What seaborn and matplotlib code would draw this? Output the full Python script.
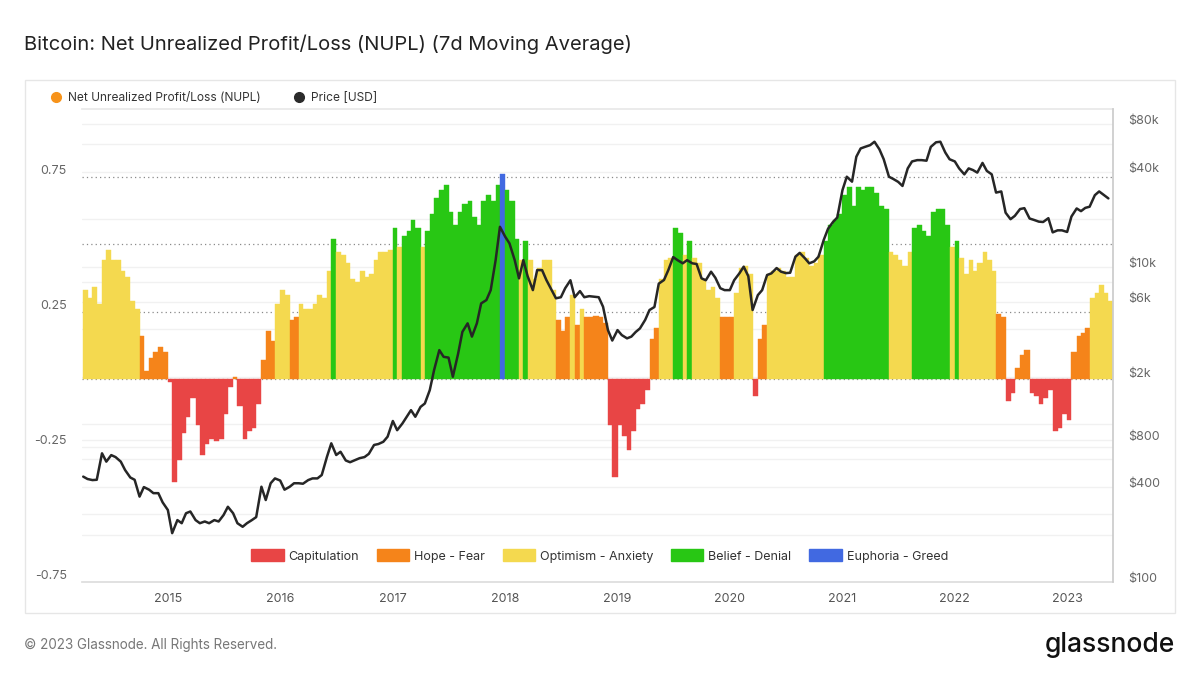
import numpy as np
import pandas as pd
import matplotlib
matplotlib.use('Agg')
import matplotlib.pyplot as plt
import seaborn as sns
from matplotlib.lines import Line2D
from matplotlib.patches import Patch, Rectangle

# Semi-monthly samples (1st and 15th), Apr 2014 - May 2023
dates = pd.date_range("2014-04-01", "2023-05-15", freq="SMS")

nupl_2014 = [0.33, 0.30, 0.34, 0.28, 0.44, 0.48, 0.44, 0.44, 0.40, 0.38, 0.29, 0.26,
             0.16, 0.03, 0.08, 0.10, 0.12, 0.10]
nupl_2015 = [-0.01, -0.38, -0.30, -0.20, -0.14, -0.07, -0.17, -0.28, -0.24, -0.22, -0.23, -0.22,
             -0.13, -0.03, 0.01, -0.10, -0.22, -0.19, -0.18, -0.09, 0.07, 0.18, 0.14, 0.28]
nupl_2016 = [0.33, 0.31, 0.22, 0.23, 0.28, 0.26, 0.26, 0.28, 0.31, 0.30, 0.40, 0.52,
             0.47, 0.46, 0.43, 0.37, 0.36, 0.40, 0.38, 0.39, 0.44, 0.47, 0.47, 0.48]
nupl_2017 = [0.56, 0.49, 0.53, 0.55, 0.59, 0.56, 0.49, 0.55, 0.61, 0.67, 0.70, 0.72,
             0.62, 0.57, 0.62, 0.65, 0.66, 0.60, 0.57, 0.66, 0.68, 0.66, 0.72, 0.76]
nupl_2018 = [0.70, 0.66, 0.52, 0.44, 0.51, 0.44, 0.37, 0.41, 0.44, 0.44, 0.33, 0.22,
             0.18, 0.23, 0.31, 0.20, 0.26, 0.23, 0.23, 0.235, 0.23, 0.21, -0.17, -0.36]
nupl_2019 = [-0.17, -0.21, -0.26, -0.19, -0.11, -0.09, -0.04, 0.15, 0.19, 0.37, 0.44, 0.45,
             0.56, 0.54, 0.46, 0.51, 0.45, 0.43, 0.37, 0.33, 0.34, 0.30, 0.23, 0.23]
nupl_2020 = [0.23, 0.32, 0.41, 0.42, 0.39, -0.06, 0.15, 0.20, 0.39, 0.40, 0.41, 0.40,
             0.38, 0.38, 0.46, 0.47, 0.45, 0.42, 0.43, 0.46, 0.51, 0.57, 0.59, 0.61]
nupl_2021 = [0.68, 0.71, 0.64, 0.71, 0.70, 0.71, 0.71, 0.69, 0.64, 0.63, 0.47, 0.46,
             0.44, 0.42, 0.47, 0.56, 0.57, 0.55, 0.53, 0.62, 0.63, 0.63, 0.57, 0.49]
nupl_2022 = [0.51, 0.45, 0.39, 0.44, 0.40, 0.43, 0.47, 0.44, 0.40, 0.24, 0.23, -0.08,
             -0.05, 0.04, 0.09, 0.11, -0.05, -0.06, -0.09, -0.07, -0.04, -0.19, -0.18, -0.13]
nupl_2023 = [-0.15, 0.10, 0.16, 0.17, 0.19, 0.30, 0.32, 0.35, 0.32, 0.29]

price_2014 = [466, 450, 443, 445, 655, 580, 638, 620, 580, 513, 460, 445,
              348, 400, 385, 366, 366, 320]
price_2015 = [286, 204, 247, 236, 273, 280, 247, 236, 242, 236, 247, 242,
              266, 300, 273, 236, 224, 236, 247, 258, 402, 331, 423, 454]
price_2016 = [440, 385, 402, 423, 423, 420, 443, 454, 454, 477, 623, 758,
              639, 670, 590, 575, 594, 610, 620, 650, 740, 750, 775, 835]
price_2017 = [1050, 918, 1012, 1117, 1230, 1117, 1290, 1356, 1648, 2207, 2956, 2680,
              2650, 2004, 2800, 3860, 4370, 3600, 4370, 5850, 6140, 7100, 11000, 17900]
price_2018 = [15500, 14050, 11000, 8430, 11000, 8700, 7100, 9520, 9500, 8220, 7100, 6300,
              6400, 7300, 8200, 6400, 7000, 6400, 6500, 6450, 6400, 5570, 3960, 3400]
price_2019 = [3960, 3680, 3510, 3600, 3850, 4060, 4600, 5310, 5550, 7800, 8230, 9500,
              11500, 11000, 10500, 11000, 10500, 10400, 8430, 8200, 9290, 8500, 7300, 7100]
price_2020 = [7100, 8200, 9070, 10000, 8700, 5310, 6600, 7100, 8850, 9070, 9800, 9300,
              9100, 9150, 11560, 12230, 11300, 10500, 10800, 11560, 14760, 17380, 19180, 20500]
price_2021 = [30600, 37200, 34600, 49800, 56200, 57500, 59000, 62000, 55500, 48000, 37200, 36000,
              34500, 32500, 42000, 46500, 47400, 47400, 47000, 57500, 61500, 62000, 53000, 48000]
price_2022 = [46500, 42000, 38500, 42000, 41000, 39500, 45500, 40500, 38500, 29500, 30000, 22000,
              20000, 21000, 23200, 23500, 20200, 19800, 19300, 19200, 20300, 16500, 17000, 17000]
price_2023 = [16600, 20800, 23400, 22500, 23600, 24000, 28400, 30000, 28400, 27100]

zone_names = ["Capitulation", "Hope - Fear", "Optimism - Anxiety", "Belief - Denial", "Euphoria - Greed"]
zone_colors = ["#E84545", "#F5841A", "#F4D94F", "#28C714", "#4169E1"]
zone_edges = [0.0, 0.25, 0.5, 0.75]

nupl_ticks = [-0.75, -0.25, 0.25, 0.75]
price_ticks = [100, 400, 800, 2000, 6000, 10000, 40000, 80000]
price_labels = ["$100", "$400", "$800", "$2k", "$6k", "$10k", "$40k", "$80k"]
price_grid = [200, 600, 1000, 4000, 8000, 20000, 60000]
years = [str(y) for y in range(2015, 2024)]

nupl = np.array(nupl_2014 + nupl_2015 + nupl_2016 + nupl_2017 + nupl_2018 +
                nupl_2019 + nupl_2020 + nupl_2021 + nupl_2022 + nupl_2023)
price = np.array(price_2014 + price_2015 + price_2016 + price_2017 + price_2018 +
                 price_2019 + price_2020 + price_2021 + price_2022 + price_2023)
assert len(nupl) == len(dates) == len(price)

df = pd.DataFrame({"date": dates, "nupl": nupl, "price": price})
df["zone"] = np.digitize(df["nupl"], zone_edges)
df["width"] = df["date"].diff().shift(-1).dt.days.fillna(15)

sns.set_theme(style="white")
plt.rcParams["font.family"] = ["Inter", "DejaVu Sans"]

W, H = 1200, 675
fig = plt.figure(figsize=(12, 6.75), dpi=100)
fig.patch.set_facecolor("white")

# card frame
fig.patches.append(Rectangle((25 / W, 1 - 613 / H), 1150 / W, 533 / H, transform=fig.transFigure,
                             facecolor="none", edgecolor="#e6e6e6", linewidth=1.0))

rect = [82 / W, 1 - 582 / H, 1031 / W, 473 / H]
xmin, xmax = pd.Timestamp("2014-03-28"), pd.Timestamp("2023-05-30")

# background axes: log grid of the price scale
axg = fig.add_axes(rect)
axg.set_yscale("log")
axg.set_ylim(100, 100000)
axg.set_xlim(xmin, xmax)
for v in price_ticks + price_grid:
    axg.axhline(v, color="#f1f1f1", linewidth=1.0, zorder=0)
axg.set_xticks([])
axg.set_yticks([], minor=False)
axg.set_yticks([], minor=True)
axg.tick_params(left=False, bottom=False, labelleft=False, labelbottom=False)
for s in axg.spines.values():
    s.set_visible(False)

# NUPL bars
ax = fig.add_axes(rect)
ax.patch.set_alpha(0)
ax.set_ylim(-0.75, 1.0)
for v in [-0.5, -0.25]:
    ax.axhline(v, color="#f1f1f1", linewidth=1.0, zorder=0)
for v in [0.0] + zone_edges[1:]:
    ax.axhline(v, color="#8a8a8a", linewidth=0.9, linestyle=(0, (1, 2.5)), zorder=0.5)
bar_colors = [zone_colors[z] for z in df["zone"]]
ax.bar(df["date"], df["nupl"], width=df["width"], align="edge", color=bar_colors,
       edgecolor=bar_colors, linewidth=0.3, zorder=1)
ax.set_yticks(nupl_ticks)
ax.set_yticklabels([f"{t:g}" for t in nupl_ticks])
for lab in ax.get_yticklabels():
    lab.set_va("bottom")
ax.tick_params(axis="y", length=0, pad=11, labelsize=9, labelcolor="#666666")
ax.set_xticks(pd.to_datetime([f"{y}-01-01" for y in years]))
ax.set_xticklabels(years)
ax.tick_params(axis="x", length=4, width=0.8, color="#dddddd", pad=4, labelsize=9, labelcolor="#555555")
ax.set_xlim(xmin, xmax)
for side in ["left", "right"]:
    ax.spines[side].set_visible(False)
ax.spines["bottom"].set_color("#dddddd")
ax.spines["top"].set_color("#e8e8e8")

# price line
ax2 = ax.twinx()
sns.lineplot(data=df, x="date", y="price", ax=ax2, color="#262626", linewidth=1.8)
ax2.set_yscale("log")
ax2.set_ylim(100, 100000)
ax2.set_yticks(price_ticks)
ax2.set_yticklabels(price_labels)
ax2.set_yticks([], minor=True)
for lab in ax2.get_yticklabels():
    lab.set_va("baseline")
ax2.tick_params(axis="y", length=0, pad=11, labelsize=9, labelcolor="#666666")
ax2.set_ylabel("")
ax2.set_xlabel("")
ax.set_xlabel("")
for side in ["left", "top", "bottom"]:
    ax2.spines[side].set_visible(False)
ax2.spines["right"].set_color("#cccccc")
ax2.set_xlim(xmin, xmax)

# zone legend inside the plot
zone_handles = [Patch(facecolor=c, edgecolor=c, label=n) for n, c in zip(zone_names, zone_colors)]
ax2.legend(handles=zone_handles, loc="center", bbox_to_anchor=(0.502, 0.055), ncol=5,
           frameon=False, fontsize=9, handlelength=2.6, handleheight=1.1,
           handletextpad=0.4, columnspacing=1.4, labelcolor="#333333")

# series legend on top
top_handles = [
    Line2D([], [], marker="o", linestyle="none", markersize=7, markerfacecolor="#F7931A",
           markeredgecolor="#F7931A", label="Net Unrealized Profit/Loss (NUPL)"),
    Line2D([], [], marker="o", linestyle="none", markersize=7, markerfacecolor="#2b2b2b",
           markeredgecolor="#2b2b2b", label="Price [USD]"),
]
fig.legend(handles=top_handles, loc="center left", bbox_to_anchor=(33 / W, 1 - 98 / H), ncol=2,
           frameon=False, fontsize=8.6, handletextpad=0.0, columnspacing=2.2, labelcolor="#333333")

fig.text(24 / W, 1 - 44 / H, "Bitcoin: Net Unrealized Profit/Loss (NUPL) (7d Moving Average)",
         fontsize=14.5, color="#222222", va="center", ha="left")
fig.text(24 / W, 1 - 645 / H, "\u00a9 2023 Glassnode. All Rights Reserved.",
         fontsize=9.7, color="#777777", va="center", ha="left")
fig.text(1175 / W, 1 - 645 / H, "glassnode", fontsize=19, color="#111111",
         va="center", ha="right", fontweight="medium")

fig.savefig("out.png", dpi=100)
plt.close(fig)
